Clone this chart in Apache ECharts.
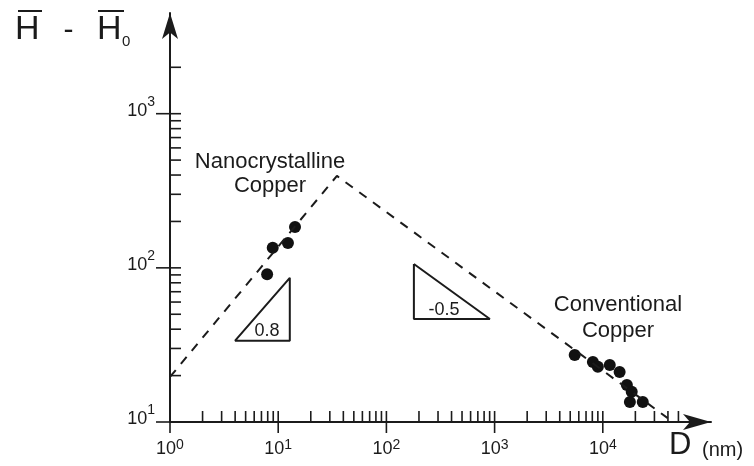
<!DOCTYPE html>
<html>
<head>
<meta charset="utf-8">
<script src="https://cdn.jsdelivr.net/npm/echarts@6/dist/echarts.min.js"></script>
<style>
  html, body { margin: 0; padding: 0; background: #fff; }
  #chart { width: 754px; height: 466px; }
</style>
</head>
<body>
<div id="chart"></div>
<script>
// Hardness increment vs. grain size D for copper (log-log)
const nanoD = [7.9, 8.9, 12.3, 14.3];
const nanoH = [91, 135, 145, 184];

const convD = [5500, 8100, 9000, 11600, 14300, 16700, 18500, 17800, 23400];
const convH = [27.2, 24.5, 22.8, 23.4, 21.1, 17.4, 15.7, 13.5, 13.5];

// Guide lines: rising branch (nanocrystalline) and falling branch (conventional)
const fitD = [1, 34.9, 39800];
const fitH = [19.6, 395, 10.6];

// Slope triangles
const triLeftD = [3.98, 12.8, 12.8, 3.98];
const triLeftH = [33.6, 33.6, 86.1, 33.6];
const triRightD = [179.5, 179.5, 904, 179.5];
const triRightH = [106, 46.6, 46.6, 106];

// Axis ranges and tick positions
const X_MIN = 1, X_MAX = 100000;
const Y_MIN = 10, Y_MAX = 4500;
const xDecades = [1, 10, 100, 1000, 10000];
const yDecades = [10, 100, 1000];
const mult = [1, 2, 3, 4, 5, 6, 7, 8, 9];
const X_TICK_LAST = 50000;
const Y_TICK_LAST = 2000;

const xTicks = [];
xDecades.forEach(d => mult.forEach(m => { const v = d * m; if (v > X_MIN && v <= X_TICK_LAST) xTicks.push(v); }));
const yTicks = [];
yDecades.forEach(d => mult.forEach(m => { const v = d * m; if (v > Y_MIN && v <= Y_TICK_LAST) yTicks.push(v); }));

const FONT = '"Liberation Sans", Arial, Helvetica, sans-serif';
const INK = '#1b1b1b';

const zip = (a, b) => a.map((v, i) => [v, b[i]]);
const isDecade = v => Math.abs(Math.log10(v) - Math.round(Math.log10(v))) < 1e-6;
const powLabel = v => (isDecade(v) && v < X_MAX) ? '{b|10}{s|' + Math.round(Math.log10(v)) + '}' : '';

// straight tick segment drawn at a data position, offset in pixels
const tickSeries = (data, dx, dy) => ({
  type: 'custom',
  silent: true,
  data: data,
  renderItem: (params, api) => {
    const p = api.coord([api.value(0), api.value(1)]);
    return {
      type: 'line',
      shape: { x1: p[0], y1: p[1], x2: p[0] + dx, y2: p[1] + dy },
      style: { stroke: INK, lineWidth: 1.6 }
    };
  }
});

const chart = echarts.init(document.getElementById('chart'), null, { renderer: 'canvas' });

const option = {
  backgroundColor: '#fff',
  animation: false,
  grid: { left: 170, right: 43, top: 13, bottom: 44 },
  xAxis: {
    type: 'log',
    logBase: 10,
    min: X_MIN,
    max: X_MAX,
    splitLine: { show: false },
    axisLine: {
      lineStyle: { color: INK, width: 2 },
      symbol: ['none', 'arrow'],
      symbolSize: [12, 28]
    },
    axisTick: { show: false },
    minorTick: { show: false },
    axisLabel: {
      margin: 16,
      color: INK,
      showMaxLabel: false,
      formatter: powLabel,
      rich: {
        b: { fontSize: 18, fontFamily: FONT, color: INK, padding: [2, 0, 0, 0] },
        s: { fontSize: 14, fontFamily: FONT, color: INK, verticalAlign: 'top' }
      }
    }
  },
  yAxis: {
    type: 'log',
    logBase: 10,
    min: Y_MIN,
    max: Y_MAX,
    splitLine: { show: false },
    axisLine: {
      lineStyle: { color: INK, width: 2 },
      symbol: ['none', 'arrow'],
      symbolSize: [12, 26]
    },
    axisTick: { show: false },
    minorTick: { show: false },
    axisLabel: {
      margin: 15,
      color: INK,
      showMaxLabel: false,
      formatter: powLabel,
      rich: {
        b: { fontSize: 18, fontFamily: FONT, color: INK, padding: [7, 0, 13, 0] },
        s: { fontSize: 14, fontFamily: FONT, color: INK, verticalAlign: 'top' }
      }
    }
  },
  series: [
    // D axis: inside ticks, then outside ticks at the decades
    tickSeries(xTicks.map(v => [v, Y_MIN]), 0, -11),
    tickSeries(xDecades.map(v => [v, Y_MIN]), 0, 11),
    // hardness axis: inside ticks, then outside ticks at the decades
    tickSeries(yTicks.map(v => [X_MIN, v]), 11, 0),
    tickSeries(yDecades.map(v => [X_MIN, v]), -14, 0),
    {
      name: 'fit',
      type: 'line',
      data: zip(fitD, fitH),
      symbol: 'none',
      silent: true,
      lineStyle: { color: INK, width: 2, type: [9, 8] }
    },
    {
      name: 'slope 0.8',
      type: 'line',
      data: zip(triLeftD, triLeftH),
      symbol: 'none',
      silent: true,
      lineStyle: { color: INK, width: 2 }
    },
    {
      name: 'slope -0.5',
      type: 'line',
      data: zip(triRightD, triRightH),
      symbol: 'none',
      silent: true,
      lineStyle: { color: INK, width: 2 }
    },
    {
      name: 'Nanocrystalline Copper',
      type: 'scatter',
      data: zip(nanoD, nanoH),
      symbol: 'circle',
      symbolSize: 12,
      itemStyle: { color: '#111', opacity: 1 }
    },
    {
      name: 'Conventional Copper',
      type: 'scatter',
      data: zip(convD, convH),
      symbol: 'circle',
      symbolSize: 12,
      itemStyle: { color: '#111', opacity: 1 }
    }
  ],
  graphic: [
    // axis title: H-bar minus H-bar sub 0
    { type: 'text', x: 15, y: 30, style: { text: 'H', fontSize: 34, fontFamily: FONT, fill: INK, align: 'left', verticalAlign: 'middle' } },
    { type: 'line', shape: { x1: 18, y1: 11, x2: 42, y2: 11 }, style: { stroke: INK, lineWidth: 2 } },
    { type: 'text', x: 68.5, y: 31, style: { text: '-', fontSize: 30, fontFamily: FONT, fill: INK, align: 'center', verticalAlign: 'middle' } },
    { type: 'text', x: 97, y: 30, style: { text: 'H', fontSize: 34, fontFamily: FONT, fill: INK, align: 'left', verticalAlign: 'middle' } },
    { type: 'line', shape: { x1: 98, y1: 11, x2: 124, y2: 11 }, style: { stroke: INK, lineWidth: 2 } },
    { type: 'text', x: 122, y: 42, style: { text: '0', fontSize: 15, fontFamily: FONT, fill: INK, align: 'left', verticalAlign: 'middle' } },

    // D axis title
    { type: 'text', x: 669, y: 445, style: { text: 'D', fontSize: 31, fontFamily: FONT, fill: INK, align: 'left', verticalAlign: 'middle' } },
    { type: 'text', x: 702, y: 450, style: { text: '(nm)', fontSize: 20, fontFamily: FONT, fill: INK, align: 'left', verticalAlign: 'middle' } },

    // group labels
    { type: 'text', x: 270, y: 174, style: { text: 'Nanocrystalline\nCopper', fontSize: 22, lineHeight: 24, fontFamily: FONT, fill: INK, align: 'center', verticalAlign: 'middle' } },
    { type: 'text', x: 618, y: 318, style: { text: 'Conventional\nCopper', fontSize: 22, lineHeight: 26, fontFamily: FONT, fill: INK, align: 'center', verticalAlign: 'middle' } },

    // slope values
    { type: 'text', x: 267, y: 331, style: { text: '0.8', fontSize: 18, fontFamily: FONT, fill: INK, align: 'center', verticalAlign: 'middle' } },
    { type: 'text', x: 444, y: 310, style: { text: '-0.5', fontSize: 18, fontFamily: FONT, fill: INK, align: 'center', verticalAlign: 'middle' } }
  ]
};

chart.setOption(option);
</script>
</body>
</html>
